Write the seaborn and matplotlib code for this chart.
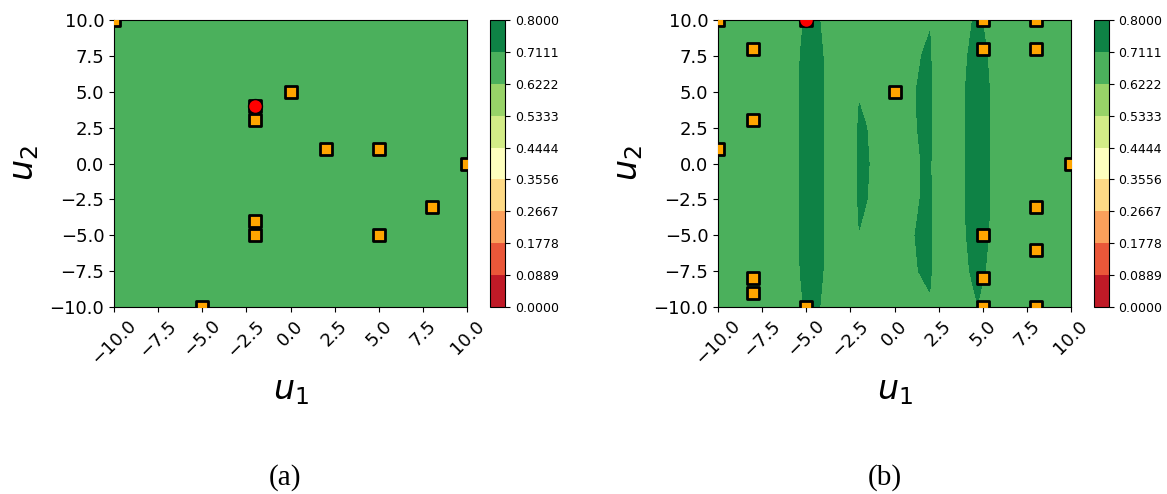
import numpy as np
import matplotlib
matplotlib.use("Agg")
import matplotlib.pyplot as plt
import seaborn as sns

# contour band edges shared by both panels
levels = np.linspace(0, 0.8, 10)

# panel (a): flat surface
a_u1 = [-10.0, 10.0]
a_u2 = [-10.0, 10.0]
a_z = [[0.67, 0.67],
       [0.67, 0.67]]
a_pts_u1 = [-10, -2, -2, -2, -2, 0, 2, 5, 5, 8, 10, -5]
a_pts_u2 = [10, 4, 3, -4, -5, 5, 1, 1, -5, -3, 0, -10]
a_best_u1 = [-2]
a_best_u2 = [4]

# panel (b): surface read on a coarse grid (rows = u2, cols = u1)
b_u1 = [-10, -6.0, -4.7, -3.4, -2.2, -2.0, -1.0, 0.5, 2.0, 2.2, 3.4, 4.7, 6.0, 10]
b_u2 = [-10, -7.5, -5, -2.5, 0, 2.5, 5, 7.5, 10]
b_z = [
    [0.665, 0.665, 0.737, 0.665, 0.665, 0.665, 0.665, 0.665, 0.686, 0.665, 0.665, 0.709, 0.665, 0.665],
    [0.665, 0.665, 0.757, 0.665, 0.665, 0.665, 0.665, 0.665, 0.746, 0.665, 0.665, 0.735, 0.665, 0.665],
    [0.665, 0.665, 0.765, 0.665, 0.665, 0.704, 0.665, 0.665, 0.770, 0.665, 0.665, 0.754, 0.665, 0.665],
    [0.665, 0.665, 0.765, 0.665, 0.665, 0.749, 0.665, 0.665, 0.738, 0.665, 0.665, 0.765, 0.665, 0.665],
    [0.665, 0.665, 0.765, 0.665, 0.665, 0.770, 0.665, 0.665, 0.734, 0.665, 0.665, 0.765, 0.665, 0.665],
    [0.665, 0.665, 0.765, 0.665, 0.665, 0.746, 0.665, 0.665, 0.752, 0.665, 0.665, 0.765, 0.665, 0.665],
    [0.665, 0.665, 0.765, 0.665, 0.665, 0.695, 0.665, 0.665, 0.761, 0.665, 0.665, 0.763, 0.665, 0.665],
    [0.665, 0.665, 0.757, 0.665, 0.665, 0.665, 0.665, 0.665, 0.732, 0.665, 0.665, 0.745, 0.665, 0.665],
    [0.665, 0.665, 0.737, 0.665, 0.665, 0.665, 0.665, 0.665, 0.701, 0.665, 0.665, 0.724, 0.665, 0.665],
]
b_pts_u1 = [-10, -8, -8, -10, -8, -8, -5, -5, 0, 5, 5, 5, 5, 5, 8, 8, 8, 8, 8, 10]
b_pts_u2 = [10, 8, 3, 1, -8, -9, -10, 10, 5, 10, 8, -5, -8, -10, 10, 8, -3, -6, -10, 0]
b_best_u1 = [-5]
b_best_u2 = [10]


def draw_panel(fig, ax_rect, cb_rect, u1, u2, z, pts_u1, pts_u2, best_u1, best_u2, caption, cap_x):
    ax = fig.add_axes(ax_rect)
    cax = fig.add_axes(cb_rect)
    cs = ax.contourf(u1, u2, np.array(z), levels=levels, cmap="RdYlGn")
    sns.scatterplot(x=pts_u1, y=pts_u2, marker="s", s=66, color="orange",
                    edgecolor="black", linewidth=2, ax=ax, zorder=3, legend=False)
    sns.scatterplot(x=best_u1, y=best_u2, marker="o", s=100, color="red",
                    edgecolor="black", linewidth=1, ax=ax, zorder=4, legend=False)
    ax.set_xlim(-10, 10)
    ax.set_ylim(-10, 10)
    ax.set_xticks(np.arange(-10, 10.1, 2.5))
    ax.set_yticks(np.arange(-10, 10.1, 2.5))
    ax.set_xticklabels([f"{v:.1f}".replace("-", "\u2212") for v in np.arange(-10, 10.1, 2.5)],
                       rotation=45, fontsize=13)
    ax.set_yticklabels([f"{v:.1f}".replace("-", "\u2212") for v in np.arange(-10, 10.1, 2.5)],
                       fontsize=13)
    ax.set_xlabel("$u_1$", fontsize=24, labelpad=4)
    ax.set_ylabel("$u_2$", fontsize=24, labelpad=6)
    cb = fig.colorbar(cs, cax=cax, ticks=levels, format="%.4f")
    cb.ax.tick_params(labelsize=9)
    fig.text(cap_x, 0.033, caption, ha="center", va="center",
             fontsize=21, family="Liberation Serif")
    return ax


fig = plt.figure(figsize=(11.67, 4.94), dpi=100)
draw_panel(fig, [0.0977, 0.3785, 0.3025, 0.581], [0.4199, 0.3785, 0.0128, 0.581],
           a_u1, a_u2, a_z, a_pts_u1, a_pts_u2, a_best_u1, a_best_u2, "(a)", 0.2442)
draw_panel(fig, [0.6153, 0.3785, 0.3024, 0.581], [0.9374, 0.3785, 0.0128, 0.581],
           b_u1, b_u2, b_z, b_pts_u1, b_pts_u2, b_best_u1, b_best_u2, "(b)", 0.7584)
fig.savefig("out.png", dpi=100)
